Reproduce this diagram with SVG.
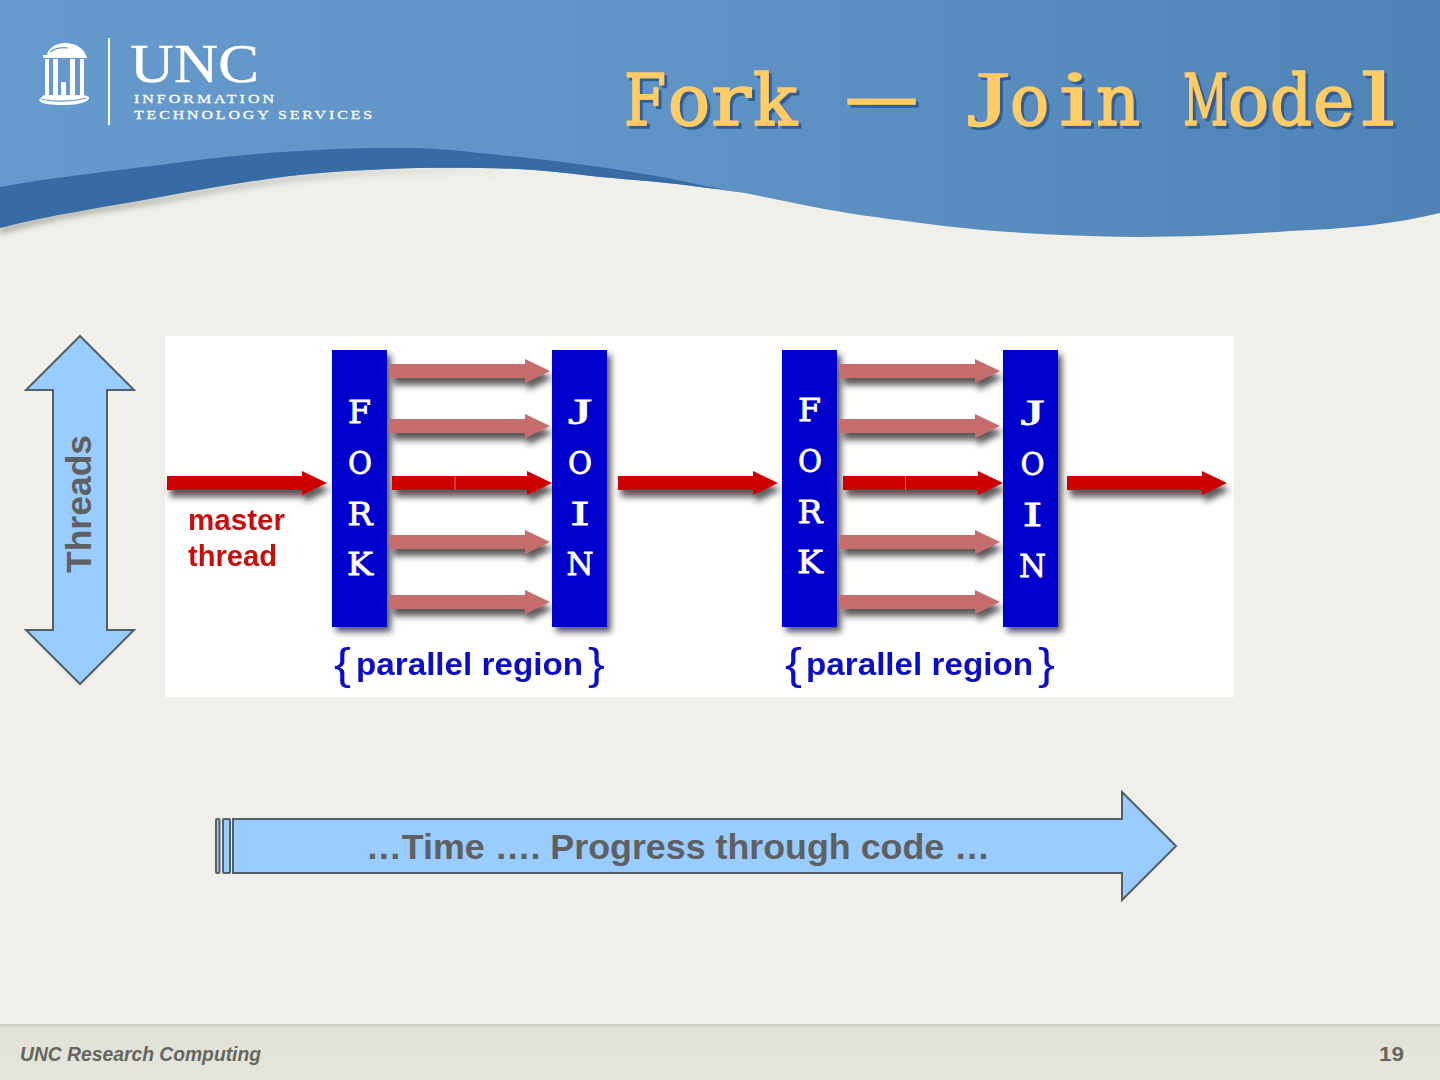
<svg xmlns="http://www.w3.org/2000/svg" width="1440" height="1080" viewBox="0 0 1440 1080">
<defs>
<style>
.sans{font-family:"Liberation Sans",Arial,sans-serif}
.slab{font-family:"DejaVu Serif","Liberation Serif",serif;font-weight:400}
.jj{font-family:"Liberation Serif",serif}
.bar{fill:#0000cc;filter:url(#sh)}
.bl{fill:#fff;stroke:#fff;stroke-width:.8;font-size:32px}
.big{fill:#99ccff;stroke:#555f66;stroke-width:2;stroke-linejoin:miter}
.bigt{fill:#5f6062;font-weight:700;font-size:35.5px}
.pr{fill:#0d0dc4;font-weight:700;font-size:32px}
.br{fill:#0d0dc4;font-size:44px}
.m{fill:#c81010;font-weight:700;font-size:29px}
.logo{fill:#fff}
.slit{fill:none;stroke:#6297cb;stroke-width:1.2}
.lt{fill:#fff;font-family:"Liberation Serif",serif}
.pink{fill:#c76c6c}
.red{fill:#cc0000}
</style>
<linearGradient id="hd" x1="0" y1="0" x2="1" y2="0"><stop offset="0" stop-color="#6699cc"/><stop offset=".45" stop-color="#6093c6"/><stop offset="1" stop-color="#4f82b5"/></linearGradient>
<linearGradient id="ft" x1="0" y1="0" x2="0" y2="1"><stop offset="0" stop-color="#e2e1d8"/><stop offset="1" stop-color="#e6e5dc"/></linearGradient>
<linearGradient id="sg" gradientUnits="userSpaceOnUse" x1="0" y1="0" x2="520" y2="0"><stop offset="0" stop-color="#77776e" stop-opacity=".75"/><stop offset=".6" stop-color="#77776e" stop-opacity=".35"/><stop offset="1" stop-color="#77776e" stop-opacity="0"/></linearGradient>
<filter id="sh" x="-20%" y="-20%" width="150%" height="170%"><feDropShadow dx="4" dy="5" stdDeviation="3" flood-color="#222" flood-opacity=".75"/></filter>
<filter id="ash" x="-10%" y="-10%" width="120%" height="120%"><feGaussianBlur in="SourceGraphic" stdDeviation=".6" result="b"/><feDropShadow in="b" dx="3" dy="7" stdDeviation="3" flood-color="#222" flood-opacity=".75"/></filter>
<filter id="ts" x="-5%" y="-20%" width="110%" height="150%"><feDropShadow dx="3" dy="3" stdDeviation="0" flood-color="#2f5f96"/></filter>
<filter id="bl" x="-10%" y="-50%" width="120%" height="200%"><feGaussianBlur stdDeviation="3"/></filter>
<filter id="soft"><feGaussianBlur stdDeviation=".5"/></filter>
<path id="a" d="M0,-7H135V-12L160,0L135,12V7H0Z"/>
</defs>
<rect id="background" width="1440" height="1080" fill="#f0efe9"/>
<g id="header">
<path d="M0,231C60,213 120,207 160,200C220,189 270,180 320,176C380,171 440,169 500,172" fill="none" stroke="url(#sg)" stroke-width="5" filter="url(#bl)"/>
<path fill="url(#hd)" d="M0,0H1440V213C1395,224 1345,229 1290,231C1240,235 1190,237 1136,237C1060,236 985,232 921,223C880,218 845,213 814,207C795,203 775,199 755,195C735,191 715,189 700,187C665,182 635,180 600,177C560,172 520,168 480,168C420,167 370,169 320,173C270,177 215,187 160,197C105,207 50,215 0,228Z"/>
<path fill="#366ba3" d="M0,187C55,177 105,172 160,165C215,157 270,152 320,150C350,148 375,148 400,148C430,148 455,150 480,153C525,157 565,162 600,167C640,173 675,179 700,185C720,189 740,192 755,195C735,191 715,189 700,187C665,182 635,180 600,177C560,172 520,168 480,168C420,167 370,169 320,173C270,177 215,187 160,197C105,207 50,215 0,228Z"/>
</g>
<g id="logo">
<path class="logo" d="M47,55C48,48 56,43 65,43C76,43 85,49 87,58H43V55Z"/>
<path class="slit" d="M50,52C56,48 62,47 68,48"/>
<rect class="logo" x="45" y="59" width="4" height="36"/><rect class="logo" x="53" y="59" width="5" height="36"/><rect class="logo" x="70" y="59" width="5" height="36"/><rect class="logo" x="80" y="59" width="4" height="36"/>
<rect class="logo" x="61" y="82" width="5" height="13"/>
<path class="logo" d="M44,95H84L89,97C90,102 78,105 64,105C50,105 40,104 39,100Z"/>
<path class="slit" d="M42,99C52,102 72,102 86,98"/>
<rect class="logo" x="108" y="38" width="2" height="87"/>
<text class="lt" x="130" y="82" font-size="54" textLength="129" lengthAdjust="spacingAndGlyphs" stroke="#fff" stroke-width=".4">UNC</text>
<text class="lt" x="134" y="103" font-size="13.500" letter-spacing="2.500" textLength="143" lengthAdjust="spacingAndGlyphs" stroke="#fff" stroke-width=".3">INFORMATION</text>
<text class="lt" x="134" y="119" font-size="13.500" letter-spacing="2.500" textLength="241" lengthAdjust="spacingAndGlyphs" stroke="#fff" stroke-width=".3">TECHNOLOGY SERVICES</text>
</g>
<text id="title" class="slab" y="125" font-size="71" fill="#ffcc66" stroke="#ffcc66" stroke-width="1.7" filter="url(#ts)"><tspan x="624" textLength="42" lengthAdjust="spacingAndGlyphs">F</tspan><tspan x="668" textLength="42" lengthAdjust="spacingAndGlyphs">o</tspan><tspan x="711" textLength="40" lengthAdjust="spacingAndGlyphs">r</tspan><tspan x="753" textLength="44" lengthAdjust="spacingAndGlyphs">k</tspan> <tspan x="845" y="121" textLength="73" lengthAdjust="spacingAndGlyphs">—</tspan> <tspan class="jj" x="967" y="125" font-size="78" textLength="42" lengthAdjust="spacingAndGlyphs">J</tspan><tspan x="1010" textLength="39" lengthAdjust="spacingAndGlyphs">o</tspan><tspan x="1059" textLength="33" lengthAdjust="spacingAndGlyphs">i</tspan><tspan x="1096" textLength="44" lengthAdjust="spacingAndGlyphs">n</tspan> <tspan x="1183" textLength="45" lengthAdjust="spacingAndGlyphs">M</tspan><tspan x="1228" textLength="41" lengthAdjust="spacingAndGlyphs">o</tspan><tspan x="1270" textLength="42" lengthAdjust="spacingAndGlyphs">d</tspan><tspan x="1313" textLength="41" lengthAdjust="spacingAndGlyphs">e</tspan><tspan x="1361" textLength="34" lengthAdjust="spacingAndGlyphs">l</tspan></text>
<g id="threads-arrow">
<path class="big" d="M80,336L134,390H107V630H134L80,684L26,630H53V390H26Z"/>
<text class="sans bigt" transform="translate(91,573) rotate(-90)">Threads</text>
</g>
<g id="figure">
<rect id="figure-bg" x="165" y="336" width="1069" height="361" fill="#fff"/>
<g id="fork-1"><rect class="bar" x="332" y="350" width="55" height="277"/><text class="slab bl" x="348" y="423" textLength="23" lengthAdjust="spacingAndGlyphs">F</text><text class="slab bl" x="348" y="474" textLength="24" lengthAdjust="spacingAndGlyphs">O</text><text class="slab bl" x="347.500" y="525" textLength="25" lengthAdjust="spacingAndGlyphs">R</text><text class="slab bl" x="347" y="575" textLength="26" lengthAdjust="spacingAndGlyphs">K</text></g>
<g id="join-1"><rect class="bar" x="552" y="350" width="55" height="277"/><text class="jj bl" x="568" y="424" font-size="35" style="font-size:35px" textLength="24" lengthAdjust="spacingAndGlyphs">J</text><text class="slab bl" x="568" y="474" textLength="24" lengthAdjust="spacingAndGlyphs">O</text><text class="slab bl" x="570" y="525" textLength="20" lengthAdjust="spacingAndGlyphs">I</text><text class="slab bl" x="566.500" y="575" textLength="27" lengthAdjust="spacingAndGlyphs">N</text></g>
<g id="fork-2"><rect class="bar" x="782" y="350" width="55" height="277"/><text class="slab bl" x="798" y="421" textLength="23" lengthAdjust="spacingAndGlyphs">F</text><text class="slab bl" x="798" y="472" textLength="24" lengthAdjust="spacingAndGlyphs">O</text><text class="slab bl" x="797.500" y="523" textLength="25" lengthAdjust="spacingAndGlyphs">R</text><text class="slab bl" x="797" y="573" textLength="26" lengthAdjust="spacingAndGlyphs">K</text></g>
<g id="join-2"><rect class="bar" x="1003" y="350" width="55" height="277"/><text class="jj bl" x="1020.500" y="425" style="font-size:35px" textLength="24" lengthAdjust="spacingAndGlyphs">J</text><text class="slab bl" x="1020.500" y="475" textLength="24" lengthAdjust="spacingAndGlyphs">O</text><text class="slab bl" x="1022.500" y="526" textLength="20" lengthAdjust="spacingAndGlyphs">I</text><text class="slab bl" x="1019" y="577" textLength="27" lengthAdjust="spacingAndGlyphs">N</text></g>
<g id="connectors" filter="url(#ash)">
<use href="#a" class="pink" transform="translate(390,371)"/>
<use href="#a" class="pink" transform="translate(390,426)"/>
<use href="#a" class="pink" transform="translate(390,542)"/>
<use href="#a" class="pink" transform="translate(390,602)"/>
<use href="#a" class="pink" transform="translate(840,371)"/>
<use href="#a" class="pink" transform="translate(840,426)"/>
<use href="#a" class="pink" transform="translate(840,542)"/>
<use href="#a" class="pink" transform="translate(840,602)"/>
<use href="#a" class="red" transform="translate(167,483)"/>
<use href="#a" class="red" transform="translate(392,483)"/>
<use href="#a" class="red" transform="translate(618,483)"/>
<use href="#a" class="red" transform="translate(843,483)"/>
<use href="#a" class="red" transform="translate(1067,483)"/>
<rect x="454.500" y="476" width="1" height="14" fill="#e46a6a"/>
<rect x="905" y="476" width="1" height="14" fill="#e46a6a"/>
</g>
<g id="labels" filter="url(#soft)">
<text class="sans m" x="188" y="530" textLength="97" lengthAdjust="spacingAndGlyphs">master</text>
<text class="sans m" x="188" y="566" textLength="89" lengthAdjust="spacingAndGlyphs">thread</text>
<text class="sans br" x="334" y="679" textLength="17" lengthAdjust="spacingAndGlyphs">{</text><text class="sans pr" x="356" y="675" textLength="227" lengthAdjust="spacingAndGlyphs">parallel region</text><text class="sans br" x="588" y="679" textLength="17" lengthAdjust="spacingAndGlyphs">}</text>
<text class="sans br" x="785" y="679" textLength="17" lengthAdjust="spacingAndGlyphs">{</text><text class="sans pr" x="806" y="675" textLength="227" lengthAdjust="spacingAndGlyphs">parallel region</text><text class="sans br" x="1038" y="679" textLength="17" lengthAdjust="spacingAndGlyphs">}</text>
</g>
</g>
<g id="time-arrow">
<rect class="big" x="216" y="819" width="3.500" height="54" rx="1"/>
<rect class="big" x="223" y="819" width="7" height="54" rx="1"/>
<path class="big" d="M233,819H1122V792L1176,846L1122,900V873H233Z"/>
<text class="sans bigt" x="366" y="859" textLength="624" lengthAdjust="spacingAndGlyphs">…Time …. Progress through code …</text>
</g>
<g id="footer">
<rect x="0" y="1026" width="1440" height="54" fill="url(#ft)"/>
<rect x="0" y="1024" width="1440" height="2.500" fill="#cfcec6"/>
<text class="sans" x="20" y="1061" font-size="20" font-style="italic" font-weight="700" fill="#666660" textLength="241" lengthAdjust="spacingAndGlyphs">UNC Research Computing</text>
<text class="sans" x="1379" y="1061" font-size="20" font-weight="700" fill="#666660" textLength="25" lengthAdjust="spacingAndGlyphs">19</text>
</g>
</svg>
